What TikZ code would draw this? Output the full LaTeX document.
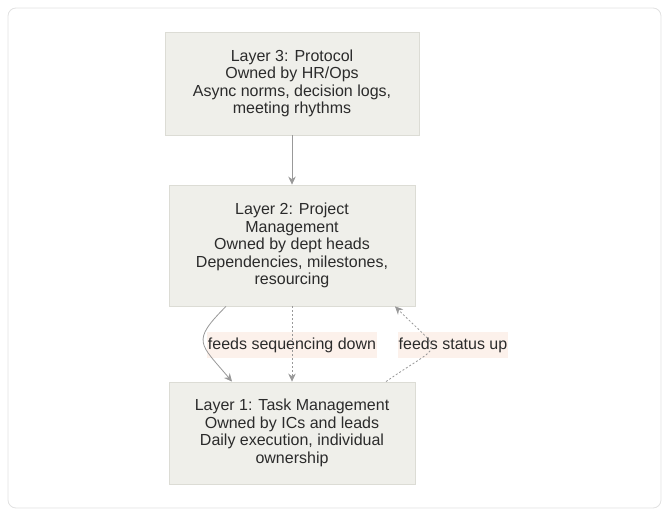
\documentclass[tikz,border=0pt]{standalone}
\usepackage{fontspec}
\setmainfont{Liberation Sans}
\usetikzlibrary{arrows.meta}
\definecolor{layerfill}{HTML}{EFEFEA}
\definecolor{layerline}{HTML}{DCDCD5}
\definecolor{linkgray}{HTML}{999999}
\definecolor{tagfill}{HTML}{FCF1EB}
\definecolor{inkgray}{HTML}{2B2B2B}
\definecolor{framegray}{HTML}{E2E2E2}
\tikzset{
  layer/.style={draw=layerline, fill=layerfill, line width=0.8pt, text=inkgray,
    align=center, inner sep=0pt, font=\fontsize{16}{17.5}\selectfont},
  tag/.style={fill=tagfill, text=inkgray, inner xsep=1pt, inner ysep=5.5pt,
    font=\fontsize{16}{17.5}\selectfont},
  link/.style={draw=linkgray, line width=0.8pt, -{Stealth[length=8pt,width=7.5pt]}},
  dotted link/.style={link, dash pattern=on 2pt off 2pt},
}
\begin{document}
\begin{tikzpicture}[x=1pt,y=1pt]
                    \useasboundingbox (0,0) rectangle (669,514);%
                    
                    % Drawing frame
                    \draw [framegray, fill=white, line width=0.8pt, rounded corners=8pt] (8,6) rectangle (661,506);%
                    
                    % Marking layer 3
                    \node [layer, minimum width=254pt, minimum height=103pt] (proto) at (292,430.5)
                      {Layer 3: Protocol\\Owned by HR/Ops\\Async norms, decision logs,\\meeting rhythms};%
                    
                    % Marking layer 2
                    \node [layer, minimum width=246pt, minimum height=121pt] (pm) at (292,268.5)
                      {Layer 2: Project\\Management\\Owned by dept heads\\Dependencies, milestones,\\resourcing};%
                    
                    % Marking layer 1
                    \node [layer, minimum width=246pt, minimum height=102pt] (task) at (292,81)
                      {Layer 1: Task Management\\Owned by ICs and leads\\Daily execution, individual\\ownership};%
                    
                    % Marking edge labels
                    \node [tag] (down) at (292,169) {feeds sequencing down};%
                    \node [tag] (up) at (453,169) {feeds status up};%
                    
                    % Drawing arrow layer 3 -> layer 2
                    \draw [link] (proto.south) -- (pm.north);%
                    
                    % Drawing curved arrow layer 2 -> layer 1
                    \draw [link] ([xshift=-66pt]pm.south) to [out=225, in=130, looseness=1.7] ([xshift=-60pt]task.north);%
                    
                    % Drawing dashed arrow layer 2 -> layer 1
                    \draw [dotted link] (pm.south) -- (task.north);%
                    
                    % Drawing dashed arrow layer 1 -> layer 2
                    \draw [dotted link] ([xshift=94pt]task.north) to [out=35, in=-45, looseness=2.4] ([xshift=103pt]pm.south);%
\end{tikzpicture}
\end{document}
